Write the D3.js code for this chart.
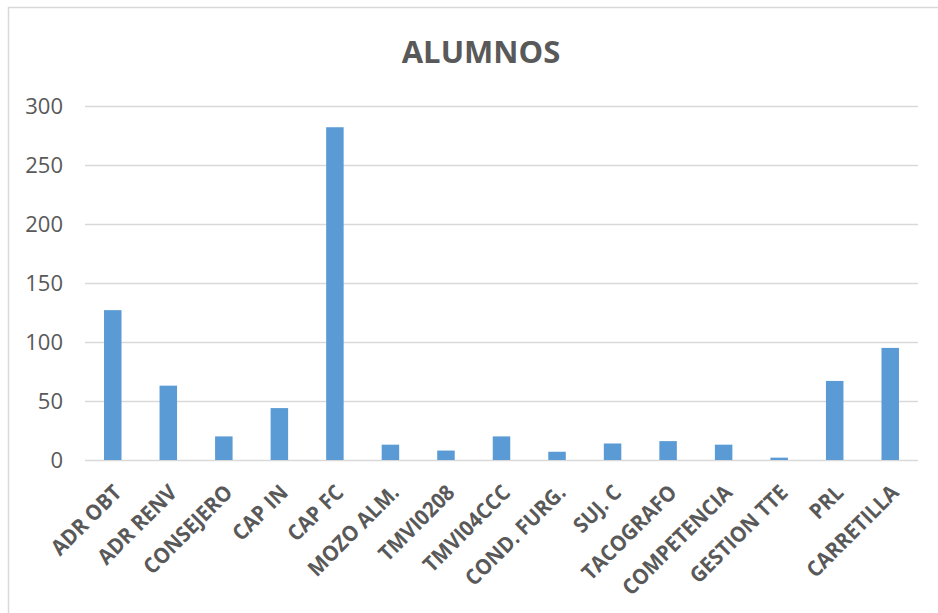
<!DOCTYPE html>
<html>
<head>
<meta charset="utf-8">
<script src="https://cdn.jsdelivr.net/npm/d3@7"></script>
<style>
  html, body { margin: 0; padding: 0; background: #fff; }
  svg { display: block; }
</style>
</head>
<body>
<svg id="chart" width="938" height="613"></svg>
<script>
const title = "ALUMNOS";
const categories = ["ADR OBT", "ADR RENV", "CONSEJERO", "CAP IN", "CAP FC", "MOZO ALM.", "TMVI0208", "TMVI04CCC", "COND. FURG.", "SUJ. C", "TACOGRAFO", "COMPETENCIA", "GESTION TTE", "PRL", "CARRETILLA"];
const values = [127, 63, 20, 44, 282, 13, 8, 20, 7, 14, 16, 13, 2, 67, 95];
const yTicks = [0, 50, 100, 150, 200, 250, 300];

const svg = d3.select("#chart");
const W = 938, H = 613;
const mLeft = 85, mRight = 918, mTop = 106, mBottom = 460;

// chart border
svg.append("rect")
  .attr("x", 8.5).attr("y", 7.5)
  .attr("width", W).attr("height", H)
  .attr("fill", "none").attr("stroke", "#D9D9D9").attr("stroke-width", 1.5);

const x = d3.scaleBand().domain(categories).range([mLeft, mRight])
  .paddingInner(0.685).paddingOuter(0.3425);
const y = d3.scaleLinear().domain([0, 300]).range([mBottom, mTop]);

// gridlines + y labels
const yAxis = d3.axisLeft(y).tickValues(yTicks).tickSize(-(mRight - mLeft)).tickPadding(22);
const gy = svg.append("g").attr("transform", `translate(${mLeft},0)`).call(yAxis);
gy.select(".domain").remove();
gy.selectAll(".tick line").attr("stroke", "#D9D9D9").attr("stroke-width", 1.5);
gy.selectAll(".tick text")
  .attr("fill", "#595959")
  .style("font-family", "'Open Sans', sans-serif")
  .style("font-size", "22px");

// bars
svg.append("g").selectAll("rect").data(values).join("rect")
  .attr("x", (d, i) => x(categories[i]))
  .attr("y", d => y(d))
  .attr("width", x.bandwidth())
  .attr("height", d => y(0) - y(d))
  .attr("fill", "#5B9BD5");

// x labels
svg.append("g").selectAll("text").data(categories).join("text")
  .attr("transform", d => `translate(${x(d) + x.bandwidth() / 2 + 10},${mBottom + 34}) rotate(-45) scale(0.94,1)`)
  .attr("text-anchor", "end")
  .attr("fill", "#595959")
  .style("font-family", "'Open Sans', sans-serif")
  .style("font-weight", "bold")
  .style("font-size", "21.5px")
  .text(d => d);

// title
svg.append("text")
  .attr("x", 481).attr("y", 63)
  .attr("text-anchor", "middle")
  .attr("fill", "#595959")
  .style("font-family", "'Open Sans', sans-serif")
  .style("font-weight", "bold")
  .style("font-size", "31px")
  .text(title);
</script>
</body>
</html>
